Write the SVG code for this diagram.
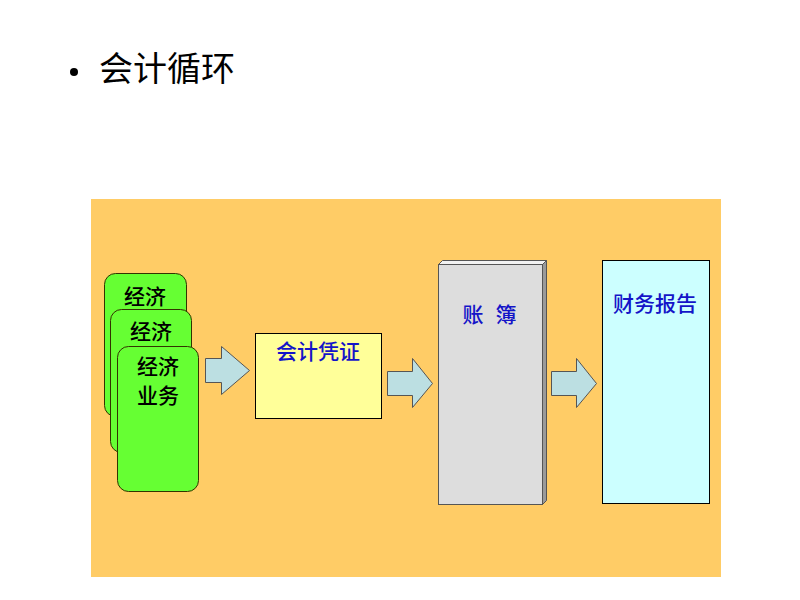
<svg xmlns="http://www.w3.org/2000/svg" width="800" height="600" viewBox="0 0 800 600">
<style>
.t{font-family:"Noto Sans CJK SC",sans-serif}
.card{fill:#66FF33;stroke:#333300;stroke-width:1}
.lbl{font-family:"Noto Sans CJK SC",sans-serif;font-size:21px;font-weight:500;text-anchor:middle}
.blue{fill:#1414C8}
.arrow{fill:#BCDFE2;stroke:#555555;stroke-width:1}
.box{stroke:#000000;stroke-width:1}
</style>
<rect width="800" height="600" fill="#FFFFFF"/>
<g id="title">
<circle cx="74" cy="72" r="4" fill="#000"/>
<text x="99" y="81" class="t" font-size="34">会计循环</text>
</g>
<rect x="91" y="199" width="630" height="378" fill="#FFCC66"/>
<g id="card1">
<rect x="104.5" y="273.5" width="82" height="143" rx="11" class="card"/>
<text x="145" y="304" class="lbl">经济</text>
</g>
<g id="card2">
<rect x="110.5" y="309.5" width="81" height="143" rx="11" class="card"/>
<text x="151" y="339" class="lbl">经济</text>
</g>
<g id="card3">
<rect x="117.5" y="346.5" width="81" height="145" rx="11" class="card"/>
<text class="lbl" font-size="19.5"><tspan x="158" y="374">经济</tspan><tspan x="158" y="403">业务</tspan></text>
</g>
<g id="voucher">
<rect x="255.5" y="333.5" width="126" height="85" fill="#FFFF99" class="box"/>
<text x="318" y="359" class="lbl blue">会计凭证</text>
</g>
<g id="ledger">
<polygon points="438.5,264.5 442.5,260.5 546.5,260.5 542.5,264.5" fill="#F2F2F2" stroke="#555" stroke-width="1"/>
<polygon points="542.5,264.5 546.5,260.5 546.5,500.5 542.5,504.5" fill="#9A9A9A" stroke="#555" stroke-width="1"/>
<rect x="438.5" y="264.5" width="104" height="240" fill="#DDDDDD" stroke="#555" stroke-width="1"/>
<text y="322" class="lbl blue"><tspan x="473">账</tspan><tspan x="506">簿</tspan></text>
</g>
<g id="report">
<rect x="602.5" y="260.5" width="107" height="243" fill="#CCFFFF" class="box"/>
<text x="655" y="311" class="lbl blue">财务报告</text>
</g>
<g id="connectors">
<polygon points="205.5,358.5 221.5,358.5 221.5,346.5 249.5,370.5 221.5,394.5 221.5,382.5 205.5,382.5" class="arrow"/>
<polygon points="387.5,371.5 412.5,371.5 412.5,358.5 432.5,383.5 412.5,407.5 412.5,395.5 387.5,395.5" class="arrow"/>
<polygon points="551.5,371.5 576.5,371.5 576.5,358.5 596.5,383.5 576.5,407.5 576.5,395.5 551.5,395.5" class="arrow"/>
</g>
</svg>
